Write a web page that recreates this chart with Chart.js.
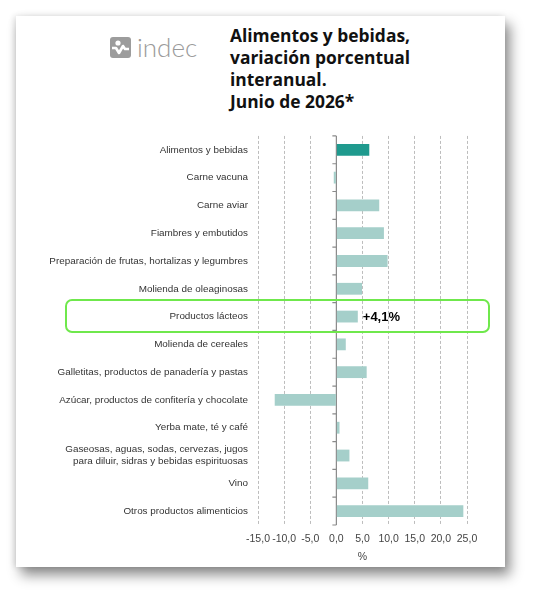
<!DOCTYPE html>
<html>
<head>
<meta charset="utf-8">
<script src="https://cdn.jsdelivr.net/npm/chart.js@4"></script>
<style>
  body { margin: 0; background: #fff; width: 537px; height: 600px; position: relative; overflow: hidden; }
  .card { position: absolute; left: 16px; top: 16px; width: 489px; height: 551px; background: #fff;
          box-shadow: 5px 8px 12px rgba(0,0,0,0.45), -2px 0 6px rgba(0,0,0,0.12); }
  .logo { position: absolute; left: 110px; top: 34px; height: 26px; display: flex; align-items: center; }
  .logo .icon { width: 21px; height: 21px; border-radius: 3px; background: #9c9c9c; position: relative; }
  .logo .txt { font-family: Lato, sans-serif; font-weight: 300; font-size: 26px; color: #9a9a9a; margin-left: 6px; line-height: 26px; }
  .title { position: absolute; left: 230px; top: 24px; font-family: "Open Sans", sans-serif; font-weight: 700;
           font-size: 17.4px; line-height: 22px; color: #111; }
  canvas { position: absolute; left: 16px; top: 120px; }
  .hl { position: absolute; left: 65px; top: 299px; width: 421px; height: 30px; border: 2px solid #6fe84c; border-radius: 7px; }
</style>
</head>
<body>
<div class="card"></div>
<div class="logo">
  <div class="icon">
    <svg width="21" height="21" viewBox="0 0 21 21">
      <circle cx="8" cy="6" r="2.6" fill="#fff"/>
      <path d="M2 11 L6 11 L9 16 L13 9 L15 12 L19 12" stroke="#fff" stroke-width="2.6" fill="none" stroke-linejoin="round"/>
    </svg>
  </div>
  <div class="txt">indec</div>
</div>
<div class="title">Alimentos y bebidas,<br>variación porcentual<br>interanual.<br>Junio de 2026*</div>
<canvas id="chart" width="489" height="443"></canvas>
<div class="hl"></div>
<script>
const categories = [
  'Alimentos y bebidas',
  'Carne vacuna',
  'Carne aviar',
  'Fiambres y embutidos',
  'Preparación de frutas, hortalizas y legumbres',
  'Molienda de oleaginosas',
  'Productos lácteos',
  'Molienda de cereales',
  'Galletitas, productos de panadería y pastas',
  'Azúcar, productos de confitería y chocolate',
  'Yerba mate, té y café',
  ['Gaseosas, aguas, sodas, cervezas, jugos', 'para diluir, sidras y bebidas espirituosas'],
  'Vino',
  'Otros productos alimenticios'
];

const values = [6.3, -0.5, 8.2, 9.1, 9.8, 4.9, 4.1, 1.8, 5.8, -11.8, 0.6, 2.5, 6.1, 24.3];

const xTicks = ['-15,0', '-10,0', '-5,0', '0,0', '5,0', '10,0', '15,0', '20,0', '25,0'];

const highlightIndex = 6;
const highlightText = '+4,1%';

// zero line with small ticks, plus the label next to the highlighted bar
const extras = {
  id: 'extras',
  beforeDatasetsDraw(chart) {
    const ctx = chart.ctx;
    const x0 = chart.scales.x.getPixelForValue(0);
    const { top, bottom } = chart.chartArea;
    const step = (bottom - top) / categories.length;
    ctx.save();
    ctx.strokeStyle = '#8a8a8a';
    ctx.lineWidth = 1.2;
    ctx.beginPath();
    ctx.moveTo(x0, top);
    ctx.lineTo(x0, bottom);
    for (let i = 0; i <= categories.length; i++) {
      const y = top + i * step;
      ctx.moveTo(x0 - 4, y);
      ctx.lineTo(x0, y);
    }
    ctx.stroke();
    ctx.restore();
  },
  afterDatasetsDraw(chart) {
    const ctx = chart.ctx;
    const bar = chart.getDatasetMeta(0).data[highlightIndex];
    ctx.save();
    ctx.font = 'bold 13px "Liberation Sans", Arial, sans-serif';
    ctx.fillStyle = '#000';
    ctx.textBaseline = 'middle';
    ctx.fillText(highlightText, bar.x + 5, bar.y + 1);
    ctx.restore();
  }
};

new Chart(document.getElementById('chart'), {
  type: 'bar',
  data: {
    labels: categories,
    datasets: [{
      data: values,
      backgroundColor: values.map((v, i) => i === 0 ? '#1f9a8e' : '#a5cfca'),
      borderWidth: 0,
      barPercentage: 0.85,
      categoryPercentage: 0.5
    }]
  },
  options: {
    indexAxis: 'y',
    responsive: false,
    animation: false,
    devicePixelRatio: 1,
    layout: { padding: { top: 15, right: 38, left: 0, bottom: 0 } },
    plugins: { legend: { display: false }, tooltip: { enabled: false } },
    scales: {
      x: {
        min: -15,
        max: 25,
        ticks: {
          stepSize: 5,
          padding: 8,
          maxRotation: 0,
          minRotation: 0,
          autoSkip: false,
          color: '#444',
          font: { family: '"Liberation Sans", Arial, sans-serif', size: 10.5 },
          callback: (v, i) => xTicks[i]
        },
        grid: {
          drawTicks: false,
          color: ctx => ctx.tick && ctx.tick.value === 0 ? 'rgba(0,0,0,0)' : '#bdbdbd',
          lineWidth: 1
        },
        border: { display: false, dash: [3, 2] },
        title: {
          display: true,
          text: '%',
          color: '#444',
          font: { family: '"Liberation Sans", Arial, sans-serif', size: 10.5 },
          padding: { top: 4, bottom: 0 }
        },
        afterFit: scale => { scale.height = 38; }
      },
      y: {
        grid: { display: false, drawTicks: false },
        border: { display: false },
        ticks: {
          padding: 10,
          color: '#333',
          font: { family: '"Liberation Sans", Arial, sans-serif', size: 9.9 }
        },
        afterFit: scale => { scale.width = 242; }
      }
    }
  },
  plugins: [extras]
});
</script>
</body>
</html>
